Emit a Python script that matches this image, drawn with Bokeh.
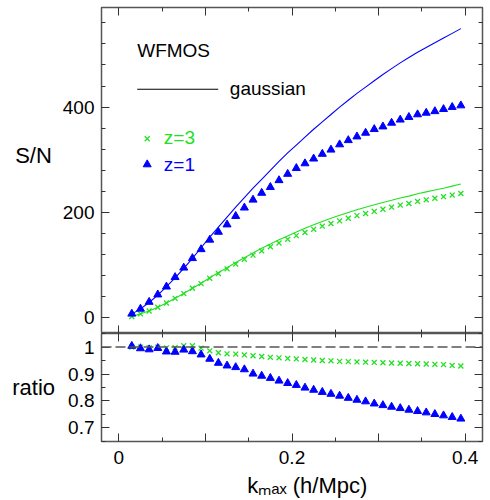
from bokeh.plotting import figure
from bokeh.layouts import column
from bokeh.models import (FixedTicker, LinearAxis, Range1d, Span, Label,
                          CustomJSTickFormatter, ColumnDataSource)
from bokeh.embed import file_html
from bokeh.resources import INLINE

# ---------------- data ----------------
k = [0.015, 0.025, 0.035, 0.045, 0.055, 0.065, 0.075, 0.085, 0.095, 0.105,
     0.115, 0.125, 0.135, 0.145, 0.155, 0.165, 0.175, 0.185, 0.195, 0.205,
     0.215, 0.225, 0.235, 0.245, 0.255, 0.265, 0.275, 0.285, 0.295, 0.305,
     0.315, 0.325, 0.335, 0.345, 0.355, 0.365, 0.375, 0.385, 0.395]

sn_z1 = [7.6, 17, 30, 44, 59, 77, 95, 113, 130, 148, 163, 177, 193, 209, 224,
         237, 248, 261, 273, 284, 293, 302, 311, 319, 329, 337, 344, 351, 358,
         363, 370, 376, 381, 386, 389, 392, 396, 400, 403]
sn_z3 = [2.5, 7.5, 13, 20, 28, 37, 46, 56, 65, 75, 84, 93, 102, 111, 119, 127,
         135, 142, 149, 156, 162, 168, 174, 179, 184, 189, 194, 198, 202, 206,
         210, 214, 217, 221, 224, 227, 230, 233, 236]
gauss_z1 = [7, 17, 29, 43, 59, 76, 94, 113, 133, 153, 172, 191, 210, 228, 246,
            263, 280, 297, 313, 328, 343, 358, 372, 386, 400, 413, 426, 438,
            450, 462, 473, 484, 494, 504, 513, 522, 531, 540, 549]
gauss_z3 = [2.5, 7.5, 13, 20, 28, 37, 46, 56, 65.5, 76, 86, 95, 105, 114, 123,
            132, 140, 148, 155.5, 163, 170, 176.5, 183, 189, 194.5, 200, 205,
            210, 214.5, 219, 223, 227.5, 231, 235.5, 239, 242.5, 246, 250, 254]
ratio_z1 = [1.004, 0.995, 0.991, 0.996, 0.983, 0.982, 0.990, 0.984, 0.972,
            0.956, 0.941, 0.931, 0.925, 0.917, 0.901, 0.893, 0.885, 0.875,
            0.866, 0.859, 0.849, 0.841, 0.833, 0.826, 0.819, 0.811, 0.804,
            0.798, 0.790, 0.784, 0.778, 0.773, 0.767, 0.762, 0.757, 0.751,
            0.746, 0.740, 0.734]
ratio_z3 = [1.0, 1.0, 0.998, 1.0, 0.997, 0.998, 1.005, 1.005, 0.996, 0.986,
            0.979, 0.975, 0.974, 0.971, 0.968, 0.965, 0.962, 0.960, 0.958,
            0.956, 0.954, 0.952, 0.950, 0.949, 0.947, 0.946, 0.945, 0.944,
            0.943, 0.942, 0.941, 0.940, 0.939, 0.938, 0.937, 0.936, 0.935,
            0.932, 0.930]

x_ticks = [0, 0.1, 0.2, 0.3, 0.4]
x_minor = [0.05, 0.15, 0.25, 0.35]
sn_ticks = [0, 200, 400]
sn_minor = [-40, 0, 40, 80, 120, 160, 200, 240, 280, 320, 360, 400, 440, 480,
            520, 560]
ratio_ticks = [0.7, 0.8, 0.9, 1.0]
ratio_minor = [0.65, 0.7, 0.75, 0.8, 0.85, 0.9, 0.95, 1.0, 1.05]

BLUE = "#0000ff"
GREEN = "#22e022"
FONT = "Liberation Sans"
FRAME = "#555555"

# ---------- layout helpers (pixel -> data, for annotations only) ----------
X0_PX, X_SCALE = 118.3, 865.9
def X(px):
    return (px - X0_PX) / X_SCALE
def YT(py):
    return (317.3 - py) / 0.5267

src = ColumnDataSource(dict(k=k, sn1=sn_z1, sn3=sn_z3, g1=gauss_z1, g3=gauss_z3,
                            r1=ratio_z1, r3=ratio_z3))

def style_axis(ax, ticks, minor, labels=True, overrides=None):
    ax.ticker = FixedTicker(ticks=ticks, minor_ticks=minor)
    ax.axis_line_color = None
    ax.major_tick_in = 8
    ax.major_tick_out = 0
    ax.minor_tick_in = 4
    ax.minor_tick_out = 0
    ax.major_tick_line_color = "#333333"
    ax.minor_tick_line_color = "#333333"
    ax.axis_label_text_font = FONT
    ax.axis_label_text_font_style = "normal"
    ax.axis_label_text_font_size = "22px"
    ax.axis_label_text_color = "black"
    if labels:
        ax.major_label_text_font = FONT
        ax.major_label_text_font_size = "19px"
        ax.major_label_text_color = "black"
        ax.major_label_standoff = 7
        if overrides:
            ax.major_label_overrides = overrides
    else:
        ax.formatter = CustomJSTickFormatter(code="return ''")
        ax.major_label_text_font_size = "0px"
        ax.major_label_standoff = 0

def horizontal_label(ax, text, standoff):
    ax.axis_label = text
    ax.axis_label_standoff = standoff
    try:
        ax.axis_label_orientation = "horizontal"
    except Exception:
        pass

# ---------------- top panel ----------------
p1 = figure(width=487, height=333, output_backend="svg", toolbar_location=None,
            x_range=Range1d(-0.02, 0.42), y_range=Range1d(-29.8, 589.1),
            x_axis_location=None, y_axis_location=None,
            min_border_left=101, min_border_right=5, min_border_top=7,
            min_border_bottom=0)
p1.grid.visible = False
p1.outline_line_color = FRAME
p1.outline_line_width = 1.5

ax = LinearAxis(); style_axis(ax, sn_ticks, sn_minor)
horizontal_label(ax, "S/N\n\u00a0", 8)
p1.add_layout(ax, "left")
ax = LinearAxis(); style_axis(ax, sn_ticks, sn_minor, labels=False); p1.add_layout(ax, "right")
ax = LinearAxis(); style_axis(ax, x_ticks, x_minor, labels=False); p1.add_layout(ax, "above")
ax = LinearAxis(); style_axis(ax, x_ticks, x_minor, labels=False); p1.add_layout(ax, "below")

p1.line("k", "g1", source=src, line_color=BLUE, line_width=1.1)
p1.line("k", "g3", source=src, line_color=GREEN, line_width=1.1)
p1.scatter("k", "sn3", source=src, marker="x", size=7, line_color=GREEN, line_width=1.3)
p1.scatter("k", "sn1", source=src, marker="triangle", size=8, fill_color=BLUE,
           line_color=BLUE)

# legend-like annotations
p1.add_layout(Label(x=X(136.7), y=YT(50), text="WFMOS", text_font=FONT,
                    text_font_size="19px", text_color="black",
                    text_baseline="alphabetic", text_align="left"))
p1.line([X(136.7), X(217.7)], [YT(88.7), YT(88.7)], line_color="black", line_width=1.1)
p1.add_layout(Label(x=X(229.3), y=YT(88), text="gaussian", text_font=FONT,
                    text_font_size="19px", text_color="black",
                    text_baseline="alphabetic", text_align="left"))
p1.scatter([X(146.7)], [YT(138.3)], marker="x", size=7, line_color=GREEN, line_width=1.3)
p1.add_layout(Label(x=X(163.3), y=YT(137.5), text="z=3", text_font=FONT,
                    text_font_size="19px", text_color=GREEN,
                    text_baseline="alphabetic", text_align="left"))
p1.scatter([X(146.7)], [YT(164)], marker="triangle", size=8, fill_color=BLUE, line_color=BLUE)
p1.add_layout(Label(x=X(163.3), y=YT(164), text="z=1", text_font=FONT,
                    text_font_size="19px", text_color=BLUE,
                    text_baseline="alphabetic", text_align="left"))

# ---------------- bottom panel ----------------
p2 = figure(width=487, height=167, output_backend="svg", toolbar_location=None,
            x_range=p1.x_range, y_range=Range1d(0.6496, 1.0504),
            x_axis_location=None, y_axis_location=None,
            min_border_left=101, min_border_right=5, min_border_top=0,
            min_border_bottom=58)
p2.grid.visible = False
p2.outline_line_color = FRAME
p2.outline_line_width = 1.5

ax = LinearAxis(); style_axis(ax, ratio_ticks, ratio_minor, overrides={1.0: "1"})
horizontal_label(ax, "ratio", 10)
p2.add_layout(ax, "left")
ax = LinearAxis(); style_axis(ax, ratio_ticks, ratio_minor, labels=False); p2.add_layout(ax, "right")
ax = LinearAxis(); style_axis(ax, x_ticks, x_minor, labels=False); p2.add_layout(ax, "above")
ax = LinearAxis(); style_axis(ax, x_ticks, x_minor, overrides={0: "0", 0.1: "", 0.3: ""})
ax.major_label_standoff = 9
ax.axis_label = "\u00a0" * 5 + "k\u2098\u2090\u2093 (h/Mpc)"
ax.axis_label_standoff = 6
p2.add_layout(ax, "below")

p2.add_layout(Span(location=1.0, dimension="width", line_color="#555555",
                   line_width=1.5, line_dash="10 4"))
p2.scatter("k", "r3", source=src, marker="x", size=7, line_color=GREEN, line_width=1.3)
p2.scatter("k", "r1", source=src, marker="triangle", size=8, fill_color=BLUE,
           line_color=BLUE)

layout = column(p1, p2)
open("out.html", "w").write(file_html(layout, INLINE))
